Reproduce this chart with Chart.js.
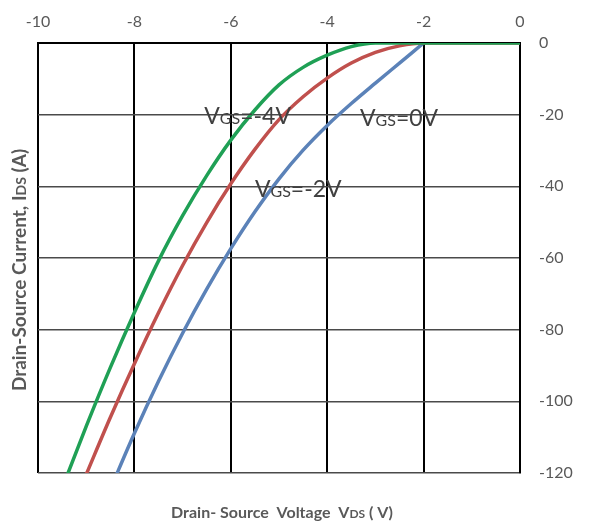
<!DOCTYPE html>
<html>
<head>
<meta charset="utf-8">
<script src="https://cdn.jsdelivr.net/npm/chart.js@4.4.1/dist/chart.umd.min.js"></script>
<style>
  html, body { margin: 0; padding: 0; background: #fff; }
  #wrap { width: 589px; height: 523px; position: relative; }
</style>
</head>
<body>
<div id="wrap"><canvas id="ivChart"></canvas></div>
<script>
// output curves, VDS (V) vs IDS (A)
const vds4 = [-9.5, -9, -8.5, -8, -7.5, -7, -6.5, -6, -5.5, -5, -4.5, -4, -3.5, -3, -1, 0];
const ids4 = [-124.3, -107.0, -90.6, -75.2, -60.8, -48.2, -37.0, -27.1, -18.7, -11.7, -6.8, -3.4, -1.0, 0, 0, 0];

const vds2 = [-9, -8.5, -8, -7.5, -7, -6.5, -6, -5.5, -5, -4.5, -4, -3.5, -3, -2.5, -2, -1, 0];
const ids2 = [-120.4, -104.5, -89.5, -75.3, -62.1, -50.1, -39.3, -29.7, -21.4, -15.0, -9.8, -5.6, -2.6, -0.8, 0, 0, 0];

// VGS=0V runs straight into the knee at -2 V; the flat part is shared with the others
const vds0 = [-8.5, -8, -7.5, -7, -6.5, -6, -5.5, -5, -4.5, -4, -3.5, -3, -2.5, -2];
const ids0 = [-124.5, -108.9, -94.4, -81.0, -68.7, -57.4, -47.1, -37.9, -29.9, -23.0, -16.9, -11.2, -5.6, 0];

const xTicks = [-10, -8, -6, -4, -2, 0];
const yTicks = [0, -20, -40, -60, -80, -100, -120];

// curve labels: [prefix, subscript, suffix, vds, ids]
const curveLabels = [
  ["V", "GS", "=-4V", -6.55, -22.6],
  ["V", "GS", "=0V", -3.32, -23.2],
  ["V", "GS", "=-2V", -5.5, -43]
];

const pts = (xs, ys) => xs.map((x, i) => ({ x: x, y: ys[i] }));

const FONT = "Lato, 'Open Sans', sans-serif";

/* ==== texts around the plot ==== */
const extraText = {
  id: "extraText",
  afterDraw(chart) {
    const { ctx, scales } = chart;
    const sx = scales.x, sy = scales.y;

    // curve labels
    ctx.save();
    ctx.fillStyle = "#404040";
    ctx.textBaseline = "alphabetic";
    ctx.textAlign = "left";
    curveLabels.forEach(l => {
      let px = sx.getPixelForValue(l[3]);
      const py = sy.getPixelForValue(l[4]);
      ctx.font = "23px " + FONT;
      ctx.fillText(l[0], px, py);
      px += ctx.measureText(l[0]).width;
      ctx.font = "16px " + FONT;
      ctx.fillText(l[1], px, py);
      px += ctx.measureText(l[1]).width;
      ctx.font = "23px " + FONT;
      ctx.fillText(l[2], px, py);
    });
    ctx.restore();

    // axis titles
    ctx.save();
    ctx.fillStyle = "#595959";
    ctx.textBaseline = "middle";
    const segs = (parts, cx, cy) => {
      let w = 0;
      parts.forEach(p => { ctx.font = "bold " + p[1] + "px " + FONT; w += ctx.measureText(p[0]).width; });
      let x = cx - w / 2;
      ctx.textAlign = "left";
      parts.forEach(p => {
        ctx.font = "bold " + p[1] + "px " + FONT;
        ctx.fillText(p[0], x, cy + (p[2] || 0));
        x += ctx.measureText(p[0]).width;
      });
    };
    segs([["Drain- Source  Voltage  V", 16], ["DS", 12, 1], [" ( V)", 16]], 282, 513);
    ctx.translate(20, 270);
    ctx.rotate(-Math.PI / 2);
    segs([["Drain-Source Current, I", 19], ["DS", 14, 1], [" (A)", 19]], 0, 0);
    ctx.restore();
  }
};

new Chart(document.getElementById("ivChart").getContext("2d"), {
  type: "line",
  data: {
    datasets: [
      { label: "VGS=-4V", data: pts(vds4, ids4), borderColor: "#1fa055" },
      { label: "VGS=-2V", data: pts(vds2, ids2), borderColor: "#c0504d" },
      { label: "VGS=0V", data: pts(vds0, ids0), borderColor: "#5b82b8" }
    ]
  },
  options: {
    responsive: true,
    maintainAspectRatio: false,
    animation: false,
    layout: { padding: { left: 38, bottom: 50, top: 0, right: 0 } },
    elements: {
      point: { radius: 0 },
      line: { borderWidth: 3.5, cubicInterpolationMode: "monotone" }
    },
    plugins: {
      legend: { display: false },
      tooltip: { enabled: false }
    },
    scales: {
      x: {
        type: "linear",
        position: "top",
        min: -10,
        max: 0,
        afterBuildTicks: ax => { ax.ticks = xTicks.map(v => ({ value: v })); },
        afterFit: ax => { ax.height = 43; },
        ticks: {
          color: "#595959",
          font: { family: FONT, size: 16 },
          padding: 12
        },
        grid: { color: "#000", lineWidth: 2, drawTicks: false },
        border: { display: true, color: "#000", width: 2 }
      },
      y: {
        type: "linear",
        position: "right",
        min: -120,
        max: 0,
        afterBuildTicks: ax => { ax.ticks = yTicks.map(v => ({ value: v })); },
        afterFit: ax => { ax.width = 69; },
        ticks: {
          color: "#595959",
          font: { family: FONT, size: 16 },
          padding: 19
        },
        grid: { color: "#4a4a4a", lineWidth: 1.5, drawTicks: false },
        border: { display: true, color: "#000", width: 2 }
      }
    }
  },
  plugins: [extraText]
});
</script>
</body>
</html>
